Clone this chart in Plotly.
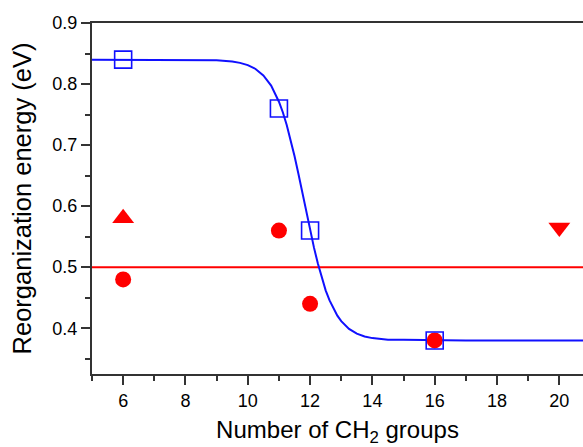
import plotly.graph_objects as go

# Data
sq_x = [6, 11, 12, 16]
sq_y = [0.84, 0.76, 0.56, 0.38]

circ_x = [6, 11, 12, 16]
circ_y = [0.48, 0.56, 0.44, 0.38]

tri_up_x = [6]
tri_up_y = [0.58]

tri_dn_x = [20]
tri_dn_y = [0.565]

hline_y = 0.5

# Fitted curve
fit_x = [5, 6, 7, 8, 8.5, 9, 9.5, 9.75, 10, 10.25, 10.5, 10.75, 11, 11.125, 11.25,
         11.375, 11.5, 11.625, 11.75, 11.875, 12, 12.125, 12.25, 12.375, 12.5,
         12.625, 12.75, 12.875, 13, 13.25, 13.5, 13.75, 14, 14.5, 15, 16, 17, 18,
         19, 20, 20.76]
fit_y = [0.84, 0.84, 0.84, 0.84, 0.8398, 0.839, 0.837, 0.8347, 0.831, 0.8247, 0.814,
         0.7975, 0.771, 0.7538, 0.733, 0.709, 0.682, 0.653, 0.622, 0.591, 0.561,
         0.532, 0.506, 0.4825, 0.462, 0.4456, 0.432, 0.4205, 0.4115, 0.3989, 0.391,
         0.3865, 0.3838, 0.3813, 0.381, 0.380, 0.380, 0.380, 0.380, 0.380, 0.380]

x_range = [5, 20.76]
y_range = [0.325, 0.9]

BLUE = "#1010FF"
RED = "#FF0000"
AX = "#333333"
FONT = "Liberation Sans, Arial, sans-serif"

fig = go.Figure()

fig.add_trace(go.Scatter(x=x_range, y=[hline_y, hline_y], mode="lines",
                         line=dict(color=RED, width=2), showlegend=False))
fig.add_trace(go.Scatter(x=fit_x, y=fit_y, mode="lines",
                         line=dict(color=BLUE, width=2),
                         showlegend=False))
fig.add_trace(go.Scatter(x=circ_x, y=circ_y, mode="markers",
                         marker=dict(symbol="circle", size=16, color=RED), showlegend=False))
fig.add_trace(go.Scatter(x=tri_up_x, y=tri_up_y, mode="markers",
                         marker=dict(symbol="triangle-up", size=19, color=RED), showlegend=False))
fig.add_trace(go.Scatter(x=tri_dn_x, y=tri_dn_y, mode="markers",
                         marker=dict(symbol="triangle-down", size=19, color=RED), showlegend=False))
fig.add_trace(go.Scatter(x=sq_x, y=sq_y, mode="markers",
                         marker=dict(symbol="square-open", size=17, color=BLUE,
                                     line=dict(width=1.6, color=BLUE)), showlegend=False))

fig.update_layout(
    width=583, height=447,
    margin=dict(l=92, r=0, t=23, b=73),
    paper_bgcolor="white", plot_bgcolor="white",
    font=dict(family=FONT, color="black"),
    xaxis=dict(range=x_range, showgrid=False, zeroline=False,
               showline=True, linecolor=AX, linewidth=2, mirror=True,
               ticks="outside", ticklen=9, tickwidth=2, tickcolor=AX,
               tick0=0, dtick=2, tickfont=dict(size=18),
               minor=dict(ticks="outside", ticklen=5, tickwidth=2, tickcolor=AX, dtick=1, tick0=0),
               title=dict(text="Number of CH<sub>2</sub> groups", font=dict(size=24), standoff=12)),
    yaxis=dict(range=y_range, showgrid=False, zeroline=False,
               showline=True, linecolor=AX, linewidth=2, mirror=False,
               ticks="outside", ticklen=9, tickwidth=2, tickcolor=AX,
               tick0=0, dtick=0.1, tickformat=".1f", tickfont=dict(size=18),
               minor=dict(ticks="outside", ticklen=5, tickwidth=2, tickcolor=AX, dtick=0.05, tick0=0),
               title=dict(text="Reorganization energy (eV)", font=dict(size=25.5), standoff=13)),
)

fig.write_html("out.html")
